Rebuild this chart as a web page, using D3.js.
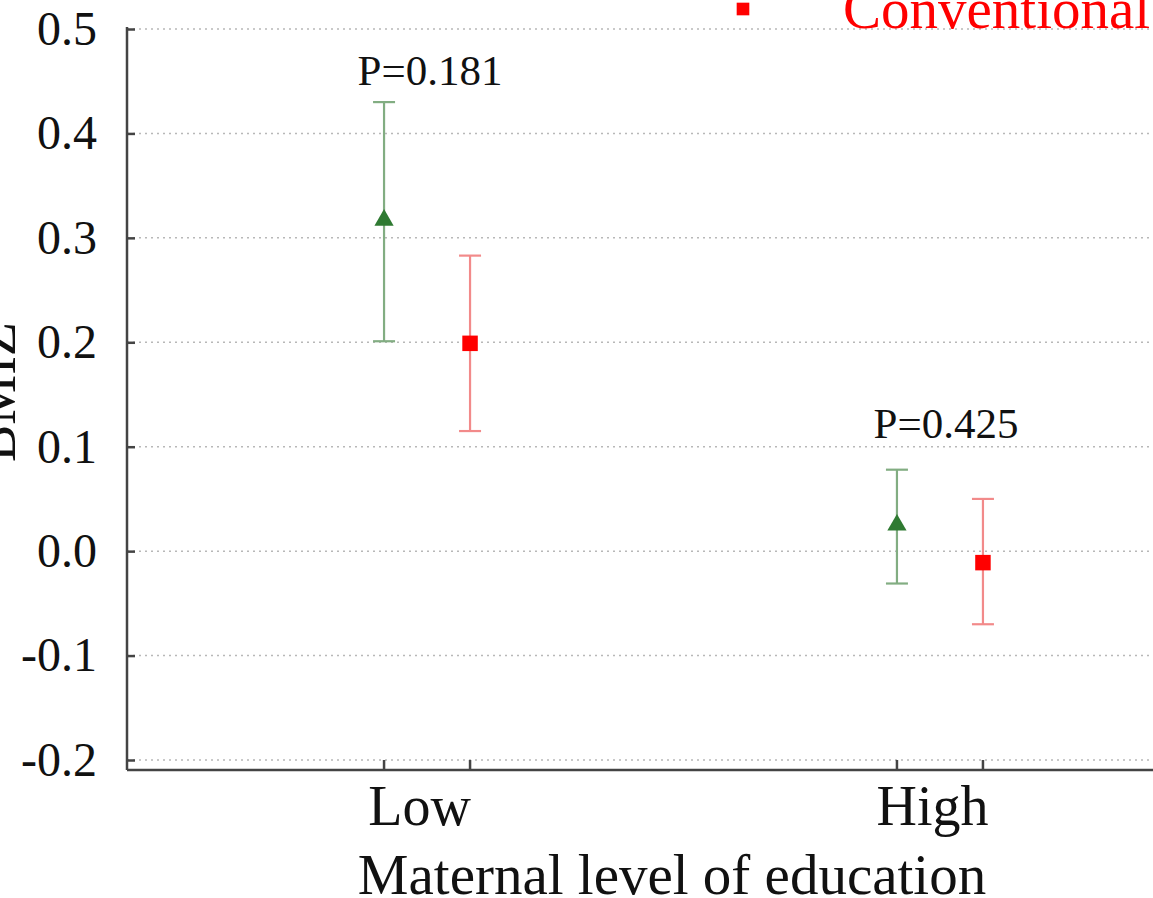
<!DOCTYPE html>
<html>
<head>
<meta charset="utf-8">
<script src="https://cdn.jsdelivr.net/npm/d3@7"></script>
<style>
  body { margin: 0; background: #fff; }
  svg { display: block; font-family: "Liberation Serif", "Times New Roman", serif; }
  .grid line { stroke: #b8b8b8; stroke-width: 1.5; stroke-dasharray: 2,4; }
</style>
</head>
<body>
<div id="main"></div>
<script>
// chart values
const categories = ["Low", "High"];
const series = ["Organic", "Conventional"];
const means = {Organic: [0.317, 0.025], Conventional: [0.199, -0.011]};
const upper = {Organic: [0.430, 0.078], Conventional: [0.283, 0.050]};
const lower = {Organic: [0.201, -0.031], Conventional: [0.115, -0.070]};
const pLabels = ["P=0.181", "P=0.425"];
const yTicks = [-0.2, -0.1, 0.0, 0.1, 0.2, 0.3, 0.4, 0.5];

const ctx = {
    w: 1153,
    h: 898,
    left: 127,
    top: 29,
    axisY: 770,
    colors: {
        Organic: {mark: "#2f7a32", bar: "#82ad82"},
        Conventional: {mark: "#ff0000", bar: "#f28a8a"}
    }
};

function createViz(){
    let svgEl = d3.select("#main").append("svg")
        .attr("width", ctx.w)
        .attr("height", ctx.h);

    // y scale: 0.5 at the top tick, 0.1 every ~104.5px
    ctx.yScale = d3.scaleLinear().domain([-0.2, 0.5]).range([760, ctx.top]);
    // categories and series offsets
    ctx.xCat = d3.scalePoint().domain(categories).range([ctx.left, 1240]).padding(0.585);
    ctx.xSer = d3.scalePoint().domain(series).range([-43, 43]);

    // dotted gridlines
    svgEl.append("g").attr("class", "grid")
      .selectAll("line").data(yTicks).join("line")
      .attr("x1", ctx.left).attr("x2", ctx.w)
      .attr("y1", d => ctx.yScale(d)).attr("y2", d => ctx.yScale(d));

    // y axis with inward ticks
    let yAx = svgEl.append("g")
      .attr("transform", `translate(${ctx.left},0)`)
      .call(d3.axisLeft(ctx.yScale).tickValues(yTicks)
              .tickFormat(d => d.toFixed(1))
              .tickSize(-8).tickPadding(30));
    yAx.select(".domain").attr("d", `M0,${ctx.top - 2}V${ctx.axisY}`)
       .attr("stroke", "#444").attr("stroke-width", 2.5);
    yAx.selectAll(".tick line").attr("stroke", "#444").attr("stroke-width", 2.5);
    yAx.selectAll("text").attr("font-size", 48).attr("fill", "#111")
       .attr("font-family", "Liberation Serif, serif");

    // x axis: line + category labels
    let xAx = svgEl.append("g")
      .attr("transform", `translate(0,${ctx.axisY})`)
      .call(d3.axisBottom(ctx.xCat).tickSize(0));
    xAx.select(".domain").attr("d", `M${ctx.left},0H${ctx.w}`)
       .attr("stroke", "#444").attr("stroke-width", 2.5);
    xAx.selectAll("text").attr("font-size", 56).attr("fill", "#111")
       .attr("font-family", "Liberation Serif, serif")
       .attr("y", 55).attr("dy", null).attr("dx", -8);

    // upward ticks at each marker position
    let pts = [];
    categories.forEach((c, i) => series.forEach(s => pts.push({
        cat: c, s: s, i: i,
        x: ctx.xCat(c) + ctx.xSer(s),
        m: means[s][i], hi: upper[s][i], lo: lower[s][i]
    })));
    svgEl.append("g").selectAll("line").data(pts).join("line")
      .attr("x1", d => d.x).attr("x2", d => d.x)
      .attr("y1", ctx.axisY).attr("y2", ctx.axisY - 10)
      .attr("stroke", "#444").attr("stroke-width", 2.5);

    // axis titles
    svgEl.append("text")
      .attr("x", 672).attr("y", 894)
      .attr("text-anchor", "middle").attr("font-size", 57).attr("fill", "#111")
      .text("Maternal level of education");
    svgEl.append("text")
      .attr("transform", "translate(15,392) rotate(-90)")
      .attr("text-anchor", "middle").attr("font-size", 56).attr("fill", "#111")
      .text("BMIZ");

    // error bars
    let eb = svgEl.append("g").selectAll("g").data(pts).join("g")
      .attr("stroke", d => ctx.colors[d.s].bar).attr("stroke-width", 2.2);
    eb.append("line")
      .attr("x1", d => d.x).attr("x2", d => d.x)
      .attr("y1", d => ctx.yScale(d.hi)).attr("y2", d => ctx.yScale(d.lo));
    eb.append("line")
      .attr("x1", d => d.x - 11).attr("x2", d => d.x + 11)
      .attr("y1", d => ctx.yScale(d.hi)).attr("y2", d => ctx.yScale(d.hi));
    eb.append("line")
      .attr("x1", d => d.x - 11).attr("x2", d => d.x + 11)
      .attr("y1", d => ctx.yScale(d.lo)).attr("y2", d => ctx.yScale(d.lo));

    // markers
    const triangle = d3.symbol().type(d3.symbolTriangle).size(160);
    const square = d3.symbol().type(d3.symbolSquare).size(240);
    svgEl.append("g").selectAll("path").data(pts).join("path")
      .attr("d", d => d.s === "Organic" ? triangle() : square())
      .attr("transform", d => `translate(${d.x},${ctx.yScale(d.m)})`)
      .attr("fill", d => ctx.colors[d.s].mark);

    // P-value annotations above each pair
    const pGap = [17, 32];
    svgEl.append("g").selectAll("text").data(categories).join("text")
      .attr("x", (c, i) => ctx.xCat(c) + (i === 0 ? 3 : 6))
      .attr("y", (c, i) => ctx.yScale(upper.Organic[i]) - pGap[i])
      .attr("text-anchor", "middle").attr("font-size", 43).attr("fill", "#111")
      .text((c, i) => pLabels[i]);

    // legend (only the visible entry)
    let lg = svgEl.append("g");
    lg.append("path")
      .attr("d", d3.symbol().type(d3.symbolSquare).size(160)())
      .attr("transform", "translate(743,9)")
      .attr("fill", ctx.colors.Conventional.mark);
    lg.append("text")
      .attr("x", 843).attr("y", 28)
      .attr("font-size", 57).attr("fill", ctx.colors.Conventional.mark)
      .text("Conventional");
}

createViz();
</script>
</body>
</html>
